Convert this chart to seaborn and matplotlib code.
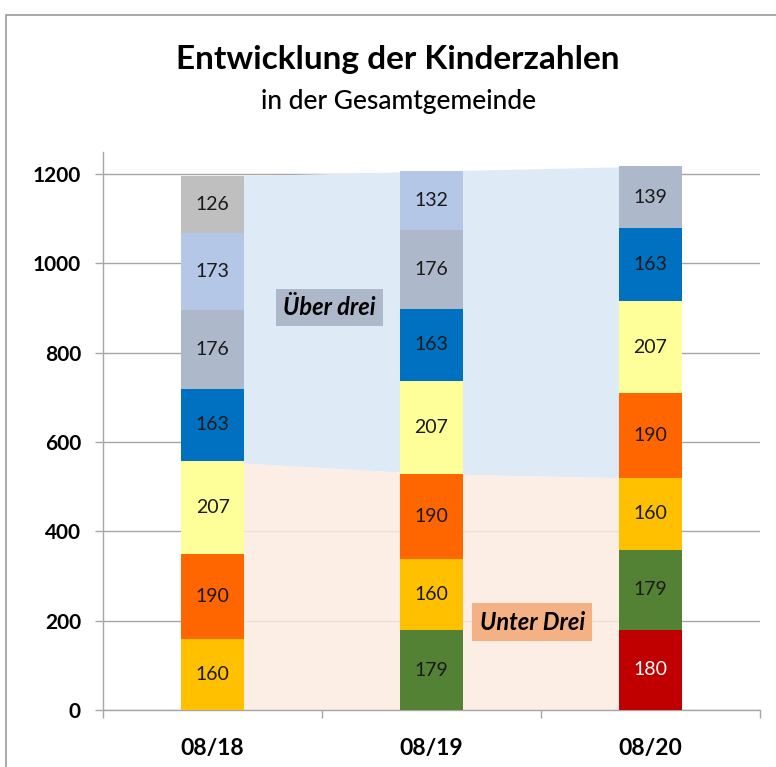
import numpy as np
import matplotlib.pyplot as plt
import seaborn as sns
from matplotlib.patches import Rectangle

# Daten: Kinder pro Jahrgang, von unten (jüngster) nach oben
jahre = ["08/18", "08/19", "08/20"]
werte_0818 = [160, 190, 207, 163, 176, 173, 126]
werte_0819 = [179, 160, 190, 207, 163, 176, 132]
werte_0820 = [180, 179, 160, 190, 207, 163, 139]
anzahl_unter_drei = 3  # die untersten drei Segmente sind "Unter Drei"

# Farben der Jahrgänge (folgen dem Jahrgang von Jahr zu Jahr)
farben_0818 = ["#FFC000", "#FF6600", "#FFFF99", "#0070C0", "#ADB9CA", "#B4C7E7", "#BFBFBF"]
farben_0819 = ["#548235", "#FFC000", "#FF6600", "#FFFF99", "#0070C0", "#ADB9CA", "#B4C7E7"]
farben_0820 = ["#C00000", "#548235", "#FFC000", "#FF6600", "#FFFF99", "#0070C0", "#ADB9CA"]

alle_werte = [werte_0818, werte_0819, werte_0820]
alle_farben = [farben_0818, farben_0819, farben_0820]

sns.set_style("white")
plt.rcParams["font.family"] = ["Lato", "DejaVu Sans"]
plt.rcParams["text.color"] = "black"
plt.rcParams["xtick.color"] = "black"
plt.rcParams["ytick.color"] = "black"

fig = plt.figure(figsize=(7.76, 7.67), dpi=100)
ax = fig.add_axes([0.133, 0.0743, 0.846, 0.7277])

x = np.arange(len(jahre))
unter_drei = np.array([sum(w[:anzahl_unter_drei]) for w in alle_werte])
gesamt = np.array([sum(w) for w in alle_werte])

# Flächen im Hintergrund
ax.fill_between(x, 0, unter_drei, color="#FCEBE0", alpha=0.85, lw=0, zorder=1)
ax.fill_between(x, unter_drei, gesamt, color="#DEEBF7", lw=0, zorder=1)

# gestapelte Balken
for i, (werte, farben) in enumerate(zip(alle_werte, alle_farben)):
    unten = 0
    for w, f in zip(werte, farben):
        ax.bar(i, w, bottom=unten, width=0.29, color=f, lw=0, zorder=3)
        txtfarbe = "white" if f == "#C00000" else "#1a1a1a"
        ax.text(i, unten + w / 2, str(w), ha="center", va="center",
                fontsize=14, color=txtfarbe, zorder=4)
        unten += w

# Beschriftungen der Flächen
ax.text(0.535, 902, "Über drei", ha="center", va="center", fontsize=17,
        fontweight="bold", fontstyle="italic", zorder=5,
        bbox=dict(boxstyle="square,pad=0.3", fc="#ADB9CA", ec="none"))
ax.text(1.46, 197, "Unter Drei", ha="center", va="center", fontsize=17,
        fontweight="bold", fontstyle="italic", zorder=5,
        bbox=dict(boxstyle="square,pad=0.3", fc="#F4B183", ec="none"))

# Achsen
ax.set_xlim(-0.5, 2.5)
ax.set_ylim(0, 1250)
ax.set_yticks(range(0, 1201, 200))
ax.set_xticks(x)
ax.set_xticklabels(jahre, fontsize=16.5, fontweight="bold")
ax.set_xticks([-0.5, 0.5, 1.5, 2.5], minor=True)
for lbl in ax.get_yticklabels():
    lbl.set_fontsize(15)
    lbl.set_fontweight("bold")
ax.yaxis.grid(True, color="#A6A6A6", lw=1)
ax.set_axisbelow(True)
ax.tick_params(axis="y", length=6, width=1, color="#A6A6A6", pad=10, left=True)
ax.tick_params(axis="x", which="major", length=0, pad=20)
ax.tick_params(axis="x", which="minor", length=6, width=1, color="#A6A6A6", bottom=True)
sns.despine(ax=ax, top=True, right=True)
for s in ["left", "bottom"]:
    ax.spines[s].set_color("#A6A6A6")
    ax.spines[s].set_linewidth(1)

# Titel
fig.text(0.513, 0.922, "Entwicklung der Kinderzahlen", ha="center", va="center",
         fontsize=24, fontweight="bold")
fig.text(0.513, 0.868, "in der Gesamtgemeinde", ha="center", va="center",
         fontsize=19, fontweight="medium")

# Rahmen
fig.patches.append(Rectangle((0.008, -0.05), 1.1, 1.031, transform=fig.transFigure,
                             fill=False, ec="#999999", lw=1.2))

fig.savefig("out.png", dpi=100)
